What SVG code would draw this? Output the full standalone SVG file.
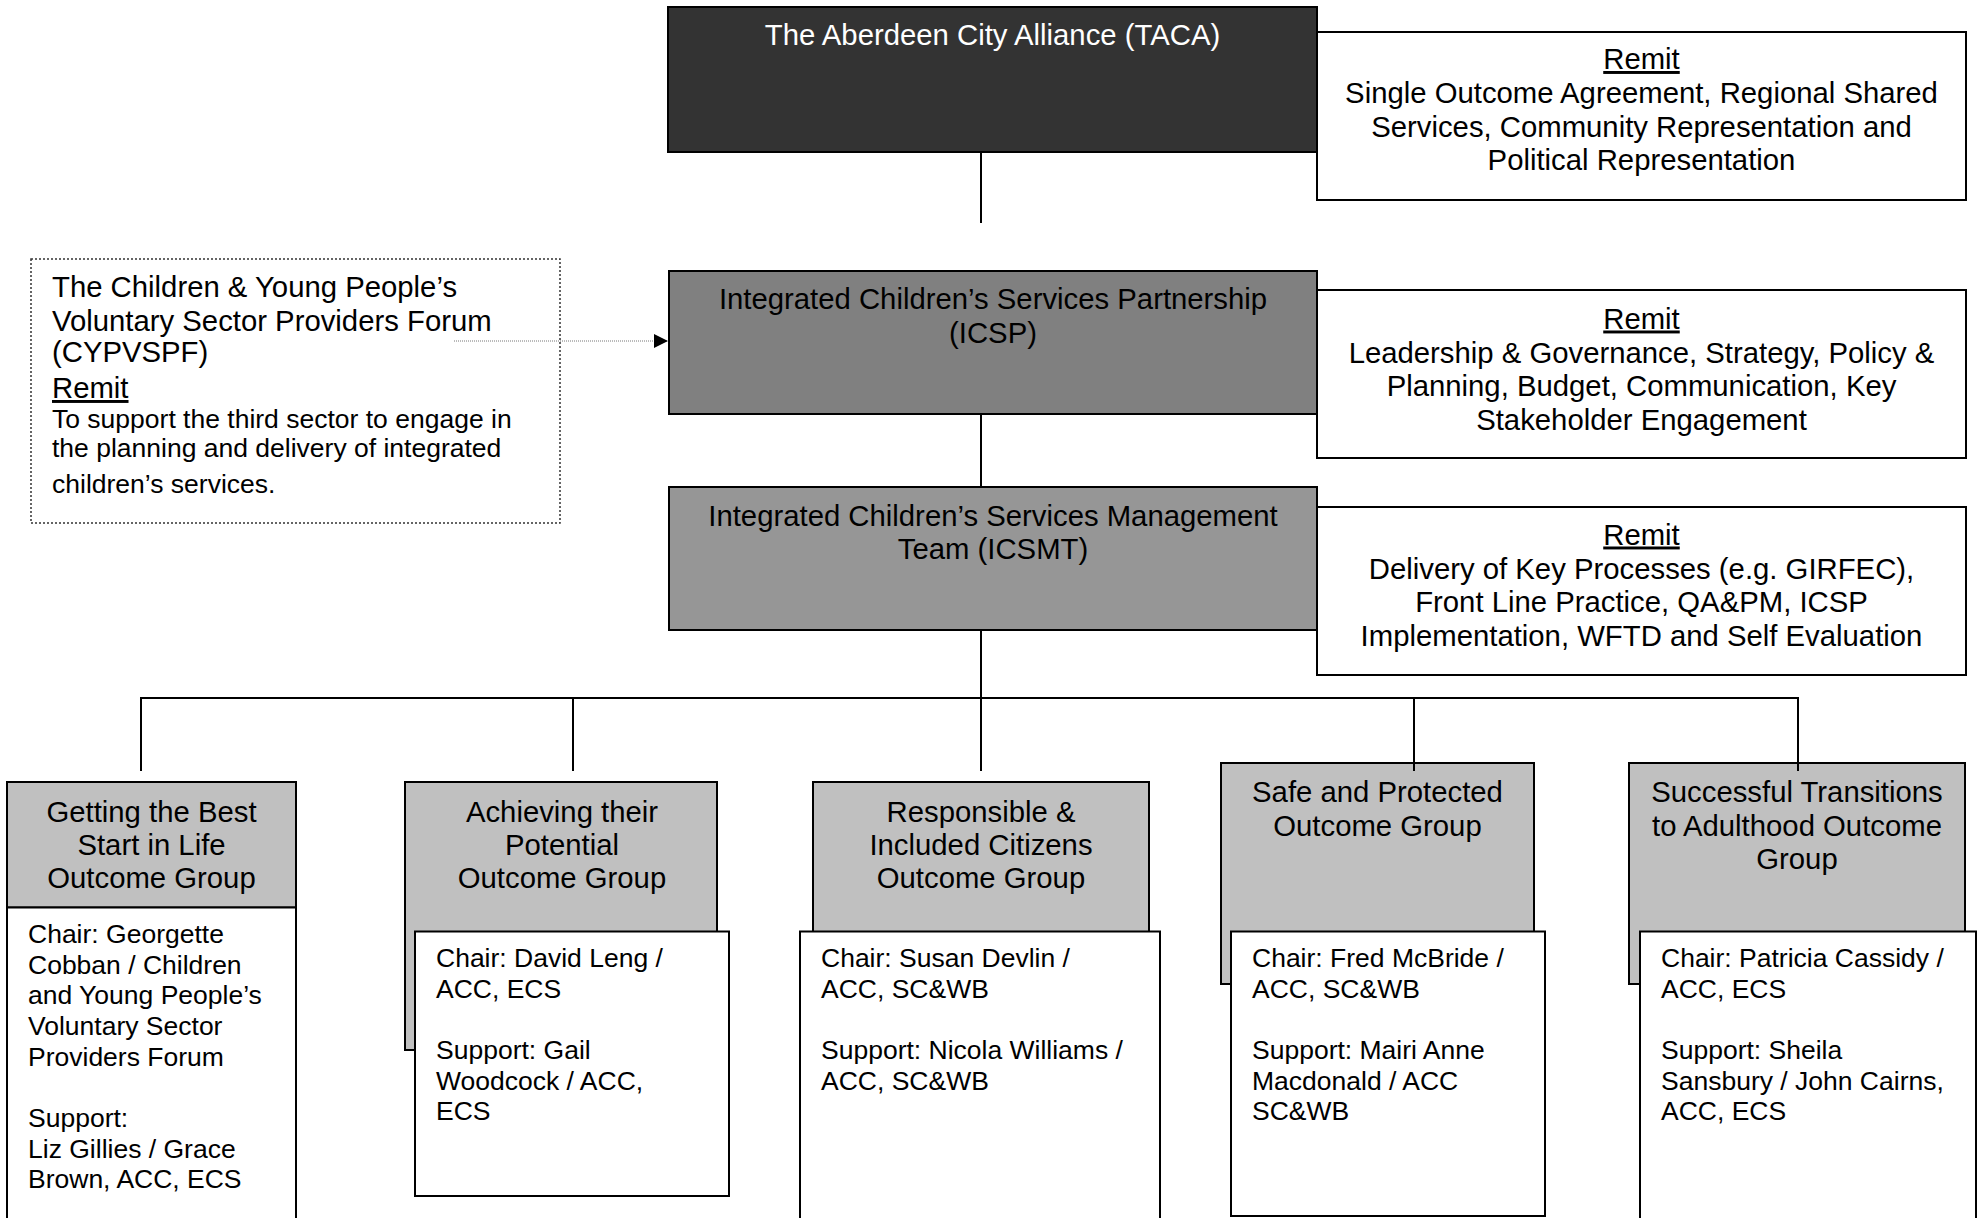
<svg xmlns="http://www.w3.org/2000/svg" width="1981" height="1218" viewBox="0 0 1981 1218">
<style>
text{font-family:"Liberation Sans",Arial,sans-serif;fill:#000}
.h{font-size:29.3px}
.b{font-size:26.5px}
.c{text-anchor:middle}
.u{text-decoration:underline}
.box{stroke:#000;stroke-width:2}
.wh{fill:#fff}
.hd{fill:#c0c0c0}
.ln{stroke:#000;stroke-width:2;fill:none}
</style>
<defs>
<marker id="ah" viewBox="0 0 14 14" refX="14" refY="7" markerWidth="14" markerHeight="14" markerUnits="userSpaceOnUse" orient="auto">
<path d="M0,0 L14,7 L0,14 z" fill="#000"/>
</marker>
</defs>

<g id="taca">
<rect class="box" x="668" y="7" width="649" height="145" fill="#333333"/>
<text class="h c" x="992.5" y="45" style="fill:#fff">The Aberdeen City Alliance (TACA)</text>
</g>

<g id="taca-remit">
<rect class="box wh" x="1317" y="32" width="649" height="168"/>
<text class="h c u" x="1641.5" y="69">Remit</text>
<text class="h c" x="1641.5" y="103">Single Outcome Agreement, Regional Shared</text>
<text class="h c" x="1641.5" y="136.5">Services, Community Representation and</text>
<text class="h c" x="1641.5" y="170">Political Representation</text>
</g>

<g id="forum">
<rect x="31" y="259" width="529" height="264" fill="#fff" stroke="#333" stroke-width="1.5" stroke-dasharray="2 2"/>
<text class="h" x="52" y="297">The Children &amp; Young People’s</text>
<text class="h" x="52" y="331">Voluntary Sector Providers Forum</text>
<text class="h" x="52" y="362">(CYPVSPF)</text>
<text class="h u" x="52" y="398">Remit</text>
<text class="b" x="52" y="428">To support the third sector to engage in</text>
<text class="b" x="52" y="457">the planning and delivery of integrated</text>
<text class="b" x="52" y="493">children’s services.</text>
</g>

<g id="icsp">
<rect class="box" x="669" y="271" width="648" height="143" fill="#808080"/>
<text class="h c" x="993" y="309">Integrated Children’s Services Partnership</text>
<text class="h c" x="993" y="343">(ICSP)</text>
</g>

<g id="icsp-remit">
<rect class="box wh" x="1317" y="290" width="649" height="168"/>
<text class="h c u" x="1641.5" y="328.5">Remit</text>
<text class="h c" x="1641.5" y="362.5">Leadership &amp; Governance, Strategy, Policy &amp;</text>
<text class="h c" x="1641.5" y="396">Planning, Budget, Communication, Key</text>
<text class="h c" x="1641.5" y="429.5">Stakeholder Engagement</text>
</g>

<g id="icsmt">
<rect class="box" x="669" y="487" width="648" height="143" fill="#969696"/>
<text class="h c" x="993" y="526">Integrated Children’s Services Management</text>
<text class="h c" x="993" y="559">Team (ICSMT)</text>
</g>

<g id="icsmt-remit">
<rect class="box wh" x="1317" y="507" width="649" height="168"/>
<text class="h c u" x="1641.5" y="544.5">Remit</text>
<text class="h c" x="1641.5" y="578.5">Delivery of Key Processes (e.g. GIRFEC),</text>
<text class="h c" x="1641.5" y="612">Front Line Practice, QA&amp;PM, ICSP</text>
<text class="h c" x="1641.5" y="645.5">Implementation, WFTD and Self Evaluation</text>
</g>

<g id="og-best-start">
<rect class="box hd" x="7" y="782" width="289" height="125.5"/>
<rect class="box wh" x="7" y="907.5" width="289" height="330"/>
<text class="h c" x="151.5" y="821.5">Getting the Best</text>
<text class="h c" x="151.5" y="854.5">Start in Life</text>
<text class="h c" x="151.5" y="888">Outcome Group</text>
<text class="b" x="28" y="943">Chair: Georgette</text>
<text class="b" x="28" y="973.5">Cobban / Children</text>
<text class="b" x="28" y="1004">and Young People’s</text>
<text class="b" x="28" y="1035">Voluntary Sector</text>
<text class="b" x="28" y="1065.5">Providers Forum</text>
<text class="b" x="28" y="1127">Support:</text>
<text class="b" x="28" y="1157.5">Liz Gillies / Grace</text>
<text class="b" x="28" y="1188">Brown, ACC, ECS</text>
</g>

<g id="og-achieving">
<rect class="box hd" x="405" y="782" width="312" height="268"/>
<rect class="box wh" x="415" y="931.5" width="314" height="264.5"/>
<text class="h c" x="562" y="821.5">Achieving their</text>
<text class="h c" x="562" y="854.5">Potential</text>
<text class="h c" x="562" y="888">Outcome Group</text>
<text class="b" x="436" y="967">Chair: David Leng /</text>
<text class="b" x="436" y="997.5">ACC, ECS</text>
<text class="b" x="436" y="1059">Support: Gail</text>
<text class="b" x="436" y="1089.5">Woodcock / ACC,</text>
<text class="b" x="436" y="1120">ECS</text>
</g>

<g id="og-responsible">
<rect class="box hd" x="813" y="782" width="336" height="160"/>
<rect class="box wh" x="800" y="931.5" width="360" height="310"/>
<text class="h c" x="981" y="821.5">Responsible &amp;</text>
<text class="h c" x="981" y="854.5">Included Citizens</text>
<text class="h c" x="981" y="888">Outcome Group</text>
<text class="b" x="821" y="967">Chair: Susan Devlin /</text>
<text class="b" x="821" y="997.5">ACC, SC&amp;WB</text>
<text class="b" x="821" y="1059">Support: Nicola Williams /</text>
<text class="b" x="821" y="1089.5">ACC, SC&amp;WB</text>
</g>

<g id="og-safe">
<rect class="box hd" x="1221" y="763" width="313" height="221"/>
<rect class="box wh" x="1231" y="931.5" width="314" height="284.5"/>
<text class="h c" x="1377.5" y="802">Safe and Protected</text>
<text class="h c" x="1377.5" y="835.5">Outcome Group</text>
<text class="b" x="1252" y="967">Chair: Fred McBride /</text>
<text class="b" x="1252" y="997.5">ACC, SC&amp;WB</text>
<text class="b" x="1252" y="1059">Support: Mairi Anne</text>
<text class="b" x="1252" y="1089.5">Macdonald / ACC</text>
<text class="b" x="1252" y="1120">SC&amp;WB</text>
</g>

<g id="og-transitions">
<rect class="box hd" x="1629" y="763" width="336" height="221"/>
<rect class="box wh" x="1640" y="931.5" width="336" height="310"/>
<text class="h c" x="1797" y="802">Successful Transitions</text>
<text class="h c" x="1797" y="835.5">to Adulthood Outcome</text>
<text class="h c" x="1797" y="869">Group</text>
<text class="b" x="1661" y="967">Chair: Patricia Cassidy /</text>
<text class="b" x="1661" y="997.5">ACC, ECS</text>
<text class="b" x="1661" y="1059">Support: Sheila</text>
<text class="b" x="1661" y="1089.5">Sansbury / John Cairns,</text>
<text class="b" x="1661" y="1120">ACC, ECS</text>
</g>

<g id="connectors">
<line class="ln" x1="981" y1="152" x2="981" y2="223"/>
<line class="ln" x1="981" y1="414" x2="981" y2="487"/>
<line class="ln" x1="981" y1="630" x2="981" y2="771"/>
<polyline class="ln" points="141,771 141,698 1798,698 1798,771"/>
<line class="ln" x1="573" y1="698" x2="573" y2="771"/>
<line class="ln" x1="1414" y1="698" x2="1414" y2="771"/>
<line x1="454" y1="341" x2="668" y2="341" stroke="#777" stroke-width="1" stroke-dasharray="1 1" marker-end="url(#ah)"/>
</g>
</svg>
